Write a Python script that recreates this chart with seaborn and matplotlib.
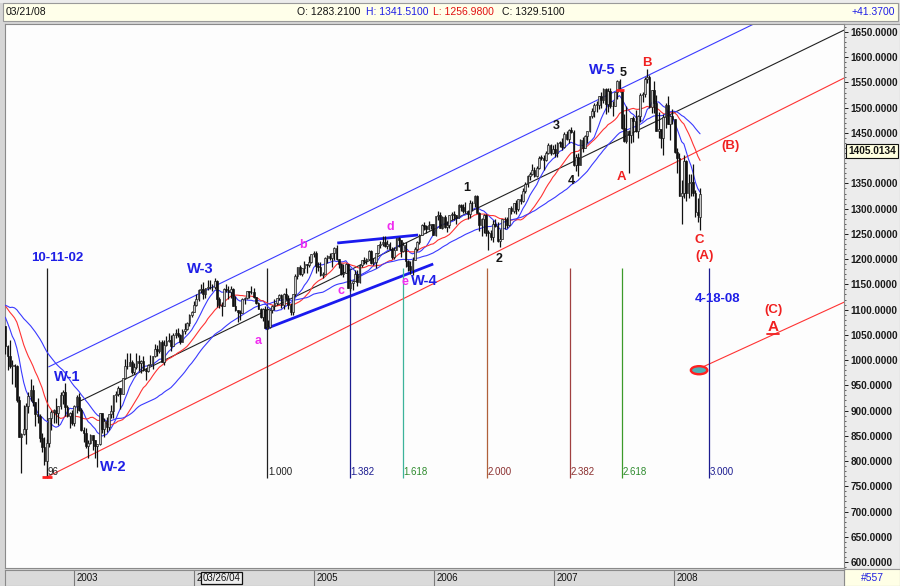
import numpy as np
import pandas as pd
import matplotlib
matplotlib.use("Agg")
import matplotlib.pyplot as plt
import matplotlib.dates as mdates
import matplotlib.transforms as mtransforms
from matplotlib.patches import Rectangle, Ellipse
import seaborn as sns

# ---------------- data (weekly S&P 500 bars) ----------------
first_week = "2002-06-07"
close_2002 = [1027.5, 1007.3, 989.1, 989.8, 989.0, 921.4, 847.8, 852.8, 864.2, 908.6, 928.8, 940.9, 916.1, 893.9, 889.8,
              845.4, 827.4, 800.6, 835.3, 884.4, 897.7, 901.0, 894.7, 909.8, 930.6, 936.3, 906.5, 889.5, 895.8, 875.4]
high_2002 = [1040, 1030, 1040, 1000, 993, 991, 928, 856, 912, 915, 936, 962.7, 950, 916, 924,
             893, 856, 848, 843, 886, 902, 903, 925, 910, 937, 941, 954.3, 912, 897, 902]
low_2002 = [1012, 981, 985, 953, 946, 917, 847, 775.7, 852, 833, 896, 919, 910, 870, 875,
            838, 817, 792, 768.6, 827, 862, 876, 876, 872, 904, 914, 889, 887, 865, 872]

close_2003 = [908.6, 927.6, 901.8, 861.4, 855.7, 829.7, 834.9, 851.2, 841.2, 828.9, 833.3, 895.8, 863.5, 878.9, 868.3,
              893.6, 898.8, 930.1, 933.4, 944.3, 933.2, 963.6, 987.8, 988.6, 995.7, 976.2, 985.7, 998.1, 993.3, 998.7,
              980.2, 977.6, 990.7, 993.1, 1008.0, 1021.4, 1018.6, 1036.3, 996.9, 1029.9, 1038.7, 1039.3, 1028.9, 1050.7,
              1053.2, 1050.4, 1035.3, 1058.2, 1061.5, 1074.1, 1088.7, 1095.9]
high_2003 = [911, 930, 935, 906, 868, 865, 842, 853, 852, 842, 834, 896, 887, 885, 887, 894, 912, 930, 939, 948, 945, 965,
             1002, 1015, 1015, 1000, 994, 1015, 1011, 1000, 1009, 985, 992, 1011, 1009, 1032, 1029, 1040, 1040, 1040, 1048,
             1053, 1049, 1053, 1062, 1063, 1052, 1062, 1074, 1075, 1092, 1098]
low_2003 = [869, 895, 899, 860, 838, 825, 806, 833, 822, 807, 788.9, 831, 855, 847, 858, 862, 886, 886, 917, 928, 904, 933,
            963, 983, 993, 972, 973, 983, 979, 974, 978, 960.8, 977, 990, 983, 1007, 1009, 1014, 996, 990, 1028, 1036,
            1018, 1028, 1044, 1045, 1031, 1036, 1052, 1059, 1068, 1086]

close_2004 = [1108.5, 1121.9, 1139.8, 1141.6, 1131.1, 1142.8, 1145.8, 1144.1, 1144.9, 1156.9, 1120.6, 1109.8, 1108.1,
              1141.8, 1139.3, 1134.6, 1140.6, 1107.3, 1098.7, 1095.7, 1093.6, 1120.7, 1122.5, 1136.5, 1135.0, 1134.4,
              1125.4, 1112.8, 1101.4, 1086.2, 1101.7, 1064.0, 1064.8, 1098.6, 1107.8, 1113.6, 1123.9, 1128.6, 1110.1,
              1131.5, 1122.1, 1108.2, 1095.7, 1130.2, 1166.2, 1184.2, 1170.3, 1182.7, 1191.2, 1188.0, 1194.2, 1210.1, 1211.9]
high_2004 = [1118, 1131, 1140, 1150, 1155, 1143, 1159, 1158, 1151, 1163, 1159, 1126, 1116, 1143, 1150, 1147, 1146, 1143,
             1127, 1100, 1099, 1123, 1125, 1137, 1137, 1146, 1142, 1126, 1116, 1103, 1103, 1108, 1080, 1101, 1110, 1121,
             1124, 1130, 1130, 1132, 1142, 1128, 1114, 1131, 1170, 1185, 1188, 1183, 1197, 1191, 1207, 1211, 1217]
low_2004 = [1095, 1107, 1118, 1133, 1122, 1124, 1139, 1140, 1136, 1140, 1106, 1103, 1088, 1108, 1134, 1122, 1124, 1107,
            1097, 1076, 1079, 1093, 1112, 1122, 1123, 1130, 1124, 1111, 1101, 1083, 1078, 1063, 1060.7, 1064, 1093, 1099,
            1110, 1119, 1103, 1101, 1120, 1102, 1090, 1090, 1127, 1161, 1169, 1167, 1173, 1172, 1185, 1193, 1204]

close_2005 = [1186.2, 1184.5, 1167.9, 1171.4, 1203.0, 1205.3, 1201.6, 1211.4, 1222.1, 1200.1, 1190.2, 1171.4, 1172.9,
              1191.1, 1142.6, 1152.1, 1156.9, 1171.4, 1154.1, 1189.3, 1198.8, 1196.0, 1200.9, 1217.0, 1191.6, 1194.4,
              1211.9, 1227.9, 1229.4, 1234.2, 1226.4, 1230.4, 1219.7, 1205.1, 1218.0, 1241.5, 1237.9, 1215.3, 1228.8,
              1195.9, 1186.6, 1177.8, 1198.4, 1220.1, 1234.7, 1248.3, 1268.3, 1265.1, 1259.4, 1267.3, 1268.7, 1248.3]
high_2005 = [1217, 1195, 1195, 1175, 1205, 1208, 1212, 1212, 1224, 1229, 1201, 1192, 1191, 1192, 1190, 1160, 1158, 1178,
             1178, 1191, 1199, 1205, 1203, 1219, 1219, 1203, 1213, 1229, 1236, 1245, 1245, 1237, 1234, 1224, 1224, 1242,
             1243, 1238, 1233, 1233, 1199, 1197, 1204, 1224, 1235, 1249, 1269, 1273, 1268, 1276, 1270, 1269]
low_2005 = [1173, 1176, 1167, 1163, 1171, 1193, 1198, 1184, 1198, 1198, 1182, 1169, 1165, 1172, 1142, 1137, 1139, 1156,
            1146, 1153, 1185, 1190, 1190, 1200, 1191, 1188, 1183, 1211, 1222, 1226, 1225, 1221, 1218, 1201, 1201, 1218,
            1224, 1205, 1214, 1185, 1176, 1170, 1168, 1200, 1216, 1230, 1247, 1258, 1252, 1257, 1259, 1248]

close_2006 = [1285.5, 1287.6, 1261.5, 1283.7, 1264.0, 1267.0, 1287.2, 1289.4, 1287.2, 1281.4, 1307.3, 1303.0, 1294.8,
              1295.5, 1289.1, 1311.3, 1310.6, 1325.8, 1291.2, 1267.0, 1280.2, 1288.2, 1252.3, 1251.5, 1244.5, 1270.2,
              1265.5, 1236.2, 1240.3, 1278.6, 1279.4, 1266.7, 1302.3, 1295.1, 1311.0, 1298.9, 1319.7, 1314.8, 1335.9,
              1349.6, 1365.6, 1368.6, 1377.3, 1364.3, 1380.9, 1401.2, 1401.0, 1396.7, 1409.8, 1427.1, 1410.8, 1418.3]
high_2006 = [1286, 1295, 1294, 1286, 1287, 1275, 1288, 1294, 1296, 1288, 1310, 1310, 1310, 1314, 1298, 1318, 1316, 1326.7,
             1326.5, 1294, 1281, 1290, 1289, 1258, 1258, 1277, 1280, 1273, 1260, 1280, 1284, 1284, 1302.3, 1305, 1312,
             1317, 1320, 1329, 1340, 1353, 1366, 1372, 1389, 1382, 1384, 1403.8, 1407, 1407, 1415, 1431, 1428, 1427]
low_2006 = [1245, 1277, 1261, 1259, 1261, 1253, 1261, 1277, 1278, 1270, 1281, 1295, 1291, 1292, 1280, 1282, 1295, 1303,
            1291, 1256, 1245, 1252, 1245, 1219, 1238, 1234, 1263, 1233, 1224.5, 1240, 1260, 1261, 1265, 1289, 1292, 1290,
            1296, 1310, 1314, 1331, 1342, 1356, 1367, 1363, 1362, 1379, 1397, 1377, 1394, 1409, 1407, 1409]

close_2007 = [1409.7, 1430.7, 1430.5, 1422.2, 1448.4, 1438.1, 1455.5, 1451.2, 1387.2, 1402.8, 1387.0, 1436.1, 1420.9,
              1443.8, 1452.9, 1484.4, 1494.1, 1505.6, 1505.9, 1522.8, 1515.7, 1536.3, 1507.7, 1532.9, 1502.6, 1503.4,
              1530.4, 1552.5, 1534.1, 1459.0, 1433.1, 1453.6, 1445.9, 1479.4, 1474.0, 1453.6, 1484.3, 1525.8, 1526.8,
              1557.6, 1561.8, 1500.6, 1535.3, 1509.7, 1453.7, 1458.7, 1440.7, 1481.1, 1504.7, 1468.0, 1484.5, 1478.5]
high_2007 = [1429, 1432, 1435, 1440, 1452, 1453, 1457, 1461, 1456, 1409, 1410, 1438, 1441, 1446, 1453, 1484, 1499, 1510,
             1513, 1523, 1532, 1540, 1539, 1539, 1540, 1514, 1532, 1555, 1555.9, 1536, 1488, 1503, 1456, 1480, 1483,
             1496, 1486, 1530, 1531, 1561, 1576, 1564, 1536, 1552, 1525, 1492, 1456, 1488, 1510, 1523, 1485, 1498]
low_2007 = [1403, 1403, 1423, 1416, 1420, 1437, 1431, 1449, 1384, 1374, 1364, 1386, 1412, 1420, 1431, 1452, 1479, 1482,
            1491, 1498, 1500, 1510, 1487, 1492, 1500, 1484, 1503, 1517, 1532, 1458, 1432, 1430, 1370.6, 1430, 1432,
            1451, 1439, 1472, 1511, 1521, 1549, 1500, 1489, 1490, 1453, 1439, 1420, 1406, 1460, 1467, 1437, 1468]

close_2008 = [1411.6, 1401.0, 1325.2, 1330.6, 1395.4, 1331.3, 1350.0, 1353.1, 1330.6, 1293.4, 1288.14, 1329.51]
high_2008 = [1471, 1421, 1410, 1356, 1406, 1397, 1368, 1368, 1388, 1336, 1321, 1341.51]
low_2008 = [1411, 1370, 1325, 1270, 1322, 1316, 1321, 1326, 1326, 1283, 1274, 1256.98]
last_open = 1283.21
last_date = "03/21/08"

# closes of the weeks before the visible window (moving-average warm-up)
warmup_closes = [1162.0, 1184.9, 1133.6, 1085.8, 1092.5, 965.8, 1040.9, 1071.4, 1091.7, 1073.5, 1104.6, 1087.2,
                 1120.3, 1138.7, 1150.3, 1139.5, 1158.3, 1123.1, 1144.9, 1161.0, 1172.5, 1145.6, 1127.6, 1133.3,
                 1122.2, 1096.2, 1104.2, 1089.8, 1131.8, 1164.3, 1166.2, 1148.7, 1147.4, 1122.7, 1111.0, 1125.2,
                 1076.3, 1073.4, 1055.0, 1106.6, 1083.8, 1067.1]
ma_windows = [10, 20, 40]
ma_colors = ["#3a3aff", "#ff3333", "#3a3aff"]

# Fibonacci time lines
fib_labels = ["", "1.000", "1.382", "1.618", "2.000", "2.382", "2.618", "3.000"]
fib_dates = ["2002-10-11", "2004-08-12", "2005-04-20", "2005-09-28", "2006-06-12", "2007-02-20", "2007-07-28", "2008-04-16"]
fib_colors = ["#202020", "#202020", "#1c1c90", "#3cb39b", "#b0603a", "#a04040", "#3c9a2a", "#1c1c90"]
fib_text_colors = ["#202020", "#202020", "#1c1c90", "#2e8b2e", "#8b3030", "#8b3030", "#2e8b2e", "#1c1c90"]
fib_top, fib_bottom = 1182.5, 766.5

# trend lines: (start date, start value, end date, end value, colour)
trend_lines = {
    "channel_top": ("2002-10-16", 986.4, "2009-06-03", 1753.0, "#3a3aff"),
    "mid_black": ("2003-01-21", 919.0, "2009-06-03", 1654.0, "#202020"),
    "channel_low": ("2002-10-06", 766.5, "2009-06-03", 1559.0, "#ff3333"),
    "projection": ("2008-03-21", 984.0, "2009-06-03", 1115.0, "#ff3333"),
    "wedge_low": ("2004-08-06", 1061.7, "2005-12-30", 1190.4, "#1a1aee"),
    "wedge_top": ("2005-03-13", 1232.0, "2005-11-14", 1247.8, "#1a1aee"),
}

year_labels = ["2003", "2004", "2005", "2006", "2007", "2008"]
ytick_values = list(range(600, 1651, 50))

# ---------------- build frame ----------------
close = close_2002 + close_2003 + close_2004 + close_2005 + close_2006 + close_2007 + close_2008
high = high_2002 + high_2003 + high_2004 + high_2005 + high_2006 + high_2007 + high_2008
low = low_2002 + low_2003 + low_2004 + low_2005 + low_2006 + low_2007 + low_2008
dates = pd.date_range(first_week, periods=len(close), freq="W-FRI")
df = pd.DataFrame({"date": dates, "close": close, "high": high, "low": low})
df["open"] = [warmup_closes[-1]] + close[:-1]
df.loc[df.index[-1], "open"] = last_open
df["high"] = df[["high", "open", "close"]].max(axis=1)
df["low"] = df[["low", "open", "close"]].min(axis=1)
df["x"] = mdates.date2num(df["date"])

full = pd.Series(warmup_closes + close)
for w in ma_windows:
    df[f"ma{w}"] = full.rolling(w).mean().iloc[len(warmup_closes):].values

D = lambda s: mdates.date2num(pd.Timestamp(s))

# ---------------- figure ----------------
sns.set_theme(style="white")
plt.rcParams["font.family"] = ["Liberation Sans", "DejaVu Sans"]

W, H = 900, 586
fig = plt.figure(figsize=(9, 5.86), dpi=100)
fig.patch.set_facecolor("#d6d6d6")


def fr(x0, y0, x1, y1):
    return [x0 / W, 1 - y1 / H, (x1 - x0) / W, (y1 - y0) / H]


def fig_rect(x0, y0, x1, y1, fc, ec="none", lw=0.8, z=-1):
    fig.add_artist(Rectangle((x0 / W, 1 - y1 / H), (x1 - x0) / W, (y1 - y0) / H,
                             transform=fig.transFigure, facecolor=fc, edgecolor=ec, lw=lw, zorder=z))


# header and side panels
fig_rect(0, 0, 900, 3, "#ececec")
fig_rect(3, 3, 898, 21, "#ffffea", ec="#9a9a9a")
fig_rect(844, 24, 900, 569, "#ececec", ec="#9a9a9a")
fig_rect(844, 569, 900, 586, "#ffffe6", ec="#9a9a9a")

ax = fig.add_axes(fr(5, 24, 844, 568))
ax.set_facecolor("#fdfdfd")
x_left, x_right = D("2002-06-06"), D("2009-06-02")
ax.set_xlim(x_left, x_right)
ax.set_ylim(588.2, 1665.8)

# trend lines
for key, (d0, v0, d1, v1, col) in trend_lines.items():
    lw = 2.0 if key.startswith("wedge") else 0.8
    ax.plot([D(d0), D(d1)], [v0, v1], color=col, lw=lw, zorder=2, solid_capstyle="butt")

# fibonacci time lines
for lab, d, c, tc in zip(fib_labels, fib_dates, fib_colors, fib_text_colors):
    ax.vlines(D(d), fib_bottom, fib_top, colors=c, lw=0.9, zorder=2)
    if lab:
        ax.text(D(d) + 2, 778, lab, color=tc, fontsize=7, ha="left", va="center", zorder=6)
ax.text(D(fib_dates[0]) + 2, 778, "96", color="#202020", fontsize=7, ha="left", va="center", zorder=6)

# moving averages with seaborn
for w, c in zip(ma_windows, ma_colors):
    sns.lineplot(x=df["x"], y=df[f"ma{w}"], color=c, lw=0.8, ax=ax, zorder=3)

# candles
up = df["close"] >= df["open"]
ax.vlines(df["x"], df["low"], df["high"], colors="#111111", lw=0.9, zorder=4)
body_lo = df[["open", "close"]].min(axis=1)
body_h = (df["close"] - df["open"]).abs().clip(lower=1.5)
ax.bar(df["x"], body_h, bottom=body_lo, width=5.2,
       color=np.where(up, "#c8c8c8", "#111111"), edgecolor="#111111", lw=0.45, zorder=5)

# small red markers at the extremes
ax.plot([D("2002-10-11")], [min(low)], marker="_", color="#ff2020", ms=7, mew=2, zorder=6)
ax.plot([D("2007-07-20")], [high[len(close) - 35]], marker="_", color="#ff2020", ms=6, mew=2, zorder=6)

# target ellipse
ax.add_patch(Ellipse((D("2008-03-18"), 980), 50, 16, facecolor="#4fb0b4", edgecolor="#ff2020", lw=1.7, zorder=6))

# labels
blue, mag, red, blk = "#1e1ee6", "#f02cf0", "#f02020", "#151515"
labels = [
    ("10-11-02", "2002-11-12", 1202, blue, 9.5), ("W-1", "2002-12-12", 967, blue, 10.5),
    ("W-2", "2003-05-01", 788, blue, 10.5), ("W-3", "2004-01-21", 1180, blue, 10.5),
    ("a", "2004-07-15", 1038, mag, 9), ("b", "2004-11-29", 1228, mag, 9),
    ("c", "2005-03-25", 1137, mag, 9), ("d", "2005-08-21", 1264, mag, 9),
    ("e", "2005-10-06", 1155, mag, 9), ("W-4", "2005-12-03", 1157, blue, 10.5),
    ("1", "2006-04-12", 1341, blk, 9), ("2", "2006-07-19", 1200, blk, 9),
    ("3", "2007-01-08", 1464, blk, 9), ("4", "2007-02-23", 1355, blk, 9),
    ("W-5", "2007-05-28", 1575, blue, 10.5), ("5", "2007-07-31", 1569, blk, 9),
    ("A", "2007-07-25", 1363, red, 9.5), ("B", "2007-10-12", 1589, red, 9.5),
    ("(B)", "2008-06-22", 1424, red, 9.5), ("C", "2008-03-18", 1238, red, 9.5),
    ("(A)", "2008-04-03", 1206, red, 9.5), ("4-18-08", "2008-05-12", 1121, blue, 9.5),
    ("(C)", "2008-10-30", 1099, red, 9.5), ("A", "2008-10-30", 1066, red, 11),
]
for t, d, v, c, fs in labels:
    ax.text(D(d), v, t, color=c, fontsize=fs, fontweight="bold", ha="center", va="center", zorder=7)
ax.plot([D("2008-10-30") - 18, D("2008-10-30") + 18], [1052, 1052], color=red, lw=1.3, zorder=7)

# axes styling
ax.yaxis.tick_right()
ax.set_yticks(ytick_values)
ax.set_yticklabels(["" if v == 1400 else f"{v:.4f}" for v in ytick_values])
ax.set_yticks(np.arange(590, 1661, 10), minor=True)
ax.tick_params(axis="y", which="major", direction="out", length=3, width=0.7, pad=1.5,
               labelsize=7.2, colors="#1a1a1a", right=True, left=False)
for lbl in ax.get_yticklabels():
    lbl.set_fontweight("bold")
ax.tick_params(axis="y", which="minor", direction="out", length=1.5, width=0.5, right=True, left=False)
ax.set_xticks([])
ax.set_xlabel("")
ax.set_ylabel("")
for s in ax.spines.values():
    s.set_color("#8a8a8a")
    s.set_linewidth(0.8)

# current price box
fig.text(872 / W, 1 - 151 / H, "1405.0134", ha="center", va="center", fontsize=7.3, fontweight="bold",
         color="#111111", bbox=dict(boxstyle="square,pad=0.2", fc="#ffffe0", ec="#111111", lw=0.8))

# date bar
axd = fig.add_axes(fr(5, 570, 844, 586))
axd.set_facecolor("#dadada")
axd.set_xlim(x_left, x_right)
axd.set_ylim(0, 1)
axd.set_xticks([])
axd.set_yticks([])
for s in axd.spines.values():
    s.set_color("#8a8a8a")
    s.set_linewidth(0.8)
off = mtransforms.offset_copy(axd.transData, fig=fig, x=3, y=0, units="dots")
for y in year_labels:
    axd.axvline(D(f"{y}-01-01"), color="#7a7a7a", lw=0.8)
    shown = y[:1] if y == "2004" else y   # the cursor date box hides the rest of "2004"
    axd.text(D(f"{y}-01-01"), 0.5, shown, transform=off, fontsize=7, ha="left", va="center", color="#111111")
off2 = mtransforms.offset_copy(axd.transData, fig=fig, x=9, y=0, units="dots")
axd.text(D("2004-01-01"), 0.5, "03/26/04", transform=off2, fontsize=7, ha="left", va="center", color="#111111",
         bbox=dict(boxstyle="square,pad=0.15", fc="#eeeeee", ec="#111111", lw=0.9), zorder=5)
fig.text(872 / W, 1 - 578 / H, "#557", ha="center", va="center", fontsize=7.5, color="#2020e0")

# header texts
hy = 1 - 12 / H
fig.text(6 / W, hy, last_date, fontsize=7.5, va="center", color="#111111")
fig.text(297 / W, hy, f"O: {last_open:.4f}", fontsize=7.5, va="center", color="#111111")
fig.text(366 / W, hy, f"H: {high[-1]:.4f}", fontsize=7.5, va="center", color="#1e1ee6")
fig.text(433 / W, hy, f"L: {low[-1]:.4f}", fontsize=7.5, va="center", color="#e01010")
fig.text(502 / W, hy, f"C: {close[-1]:.4f}", fontsize=7.5, va="center", color="#111111")
fig.text(895 / W, hy, f"+{close[-1] - close[-2]:.4f}", fontsize=7.5, va="center", ha="right", color="#1e1ee6")

fig.savefig("out.png", dpi=100, facecolor=fig.get_facecolor())
